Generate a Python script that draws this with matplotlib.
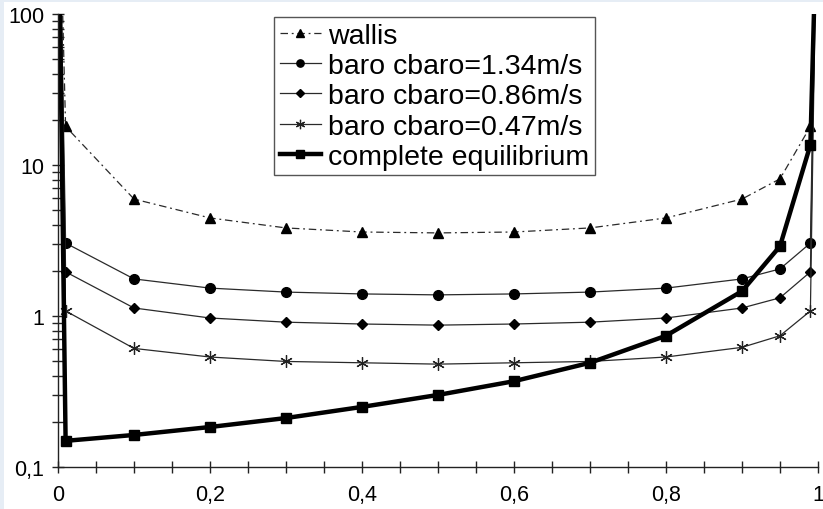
import matplotlib
matplotlib.use('Agg')
import matplotlib.pyplot as plt
from matplotlib.ticker import MultipleLocator, FixedLocator, FuncFormatter
from matplotlib.patches import Rectangle

plt.rcParams['font.family'] = ['Liberation Sans', 'DejaVu Sans']

# x positions (void fraction)
x_sym = [0.001, 0.01, 0.1, 0.2, 0.3, 0.4, 0.5, 0.6, 0.7, 0.8, 0.9, 0.95, 0.99, 0.999]
x_eq = [0.0, 0.01, 0.1, 0.2, 0.3, 0.4, 0.5, 0.6, 0.7, 0.8, 0.9, 0.95, 0.99, 1.0]

wallis = [1000, 18.0, 5.95, 4.46, 3.83, 3.6, 3.55, 3.6, 3.83, 4.46, 5.95, 8.1, 18.0, 1000]
baro_134 = [1000, 3.04, 1.76, 1.53, 1.44, 1.40, 1.38, 1.40, 1.44, 1.53, 1.76, 2.05, 3.04, 1000]
baro_086 = [1000, 1.96, 1.13, 0.97, 0.91, 0.885, 0.87, 0.885, 0.91, 0.97, 1.13, 1.32, 1.96, 1000]
baro_047 = [1000, 1.08, 0.61, 0.535, 0.50, 0.49, 0.48, 0.49, 0.50, 0.535, 0.62, 0.74, 1.08, 1000]
complete = [1000, 0.149, 0.163, 0.184, 0.211, 0.25, 0.30, 0.37, 0.49, 0.74, 1.46, 2.9, 13.6, 1000]

labels = ['wallis', 'baro cbaro=1.34m/s', 'baro cbaro=0.86m/s',
          'baro cbaro=0.47m/s', 'complete equilibrium']

fig = plt.figure(figsize=(8.23, 5.10), dpi=100)
fig.patch.set_facecolor('#e6edf5')
# white page area, light blue strip on top/left
fig.patches.append(Rectangle((4 / 823, 0), 1, 1 - 3 / 510, transform=fig.transFigure,
                             facecolor='white', edgecolor='none', zorder=-10))

ax = fig.add_axes([58 / 823, 1 - 468 / 510, 760 / 823, 453 / 510])
ax.set_facecolor('none')

thin = '#2a2a2a'
ax.plot(x_sym, wallis, linestyle=(0, (6, 3, 1.5, 3)), color=thin, lw=0.9,
        marker='^', ms=7, mfc='black', mec='black', label=labels[0])
ax.plot(x_sym, baro_134, '-', color=thin, lw=0.9, marker='o', ms=7,
        mfc='black', mec='black', label=labels[1])
ax.plot(x_sym, baro_086, '-', color=thin, lw=0.9, marker='D', ms=5,
        mfc='black', mec='black', label=labels[2])
ax.plot(x_sym, baro_047, '-', color=thin, lw=0.9, marker=(6, 2, 0), ms=9,
        mec='#222222', mew=0.9, label=labels[3])
ax.plot(x_eq, complete, '-', color='black', lw=3.2, marker='s', ms=7,
        mfc='black', mec='black', label=labels[4])

ax.set_yscale('log')
ax.set_ylim(0.1, 100)
ax.set_xlim(0, 1)

for s in ['top', 'right']:
    ax.spines[s].set_visible(False)
for s in ['left', 'bottom']:
    ax.spines[s].set_linewidth(1.0)
    ax.spines[s].set_color('#222222')

ax.xaxis.set_major_locator(MultipleLocator(0.2))
ax.xaxis.set_minor_locator(MultipleLocator(0.05))
ax.xaxis.set_major_formatter(FuncFormatter(lambda v, p: ('%g' % round(v, 2)).replace('.', ',')))
ax.yaxis.set_major_locator(FixedLocator([0.1, 1, 10, 100]))
minors = [m * d for d in [0.1, 1, 10] for m in range(2, 10)]
ax.yaxis.set_minor_locator(FixedLocator(minors))
ax.yaxis.set_major_formatter(FuncFormatter(lambda v, p: ('%g' % v).replace('.', ',')))
ax.yaxis.set_minor_formatter(FuncFormatter(lambda v, p: ''))

ax.tick_params(which='both', direction='inout', length=8, width=1.0, color='#222222',
               labelsize=15.5, labelcolor='black')
ax.tick_params(axis='x', which='both', pad=8)
ax.tick_params(axis='y', which='both', pad=6)

leg = ax.legend(loc='upper left', bbox_to_anchor=(274 / 823, 1 - 18 / 510),
                bbox_transform=fig.transFigure, borderaxespad=0, fontsize=20.5,
                frameon=True, fancybox=False, framealpha=1, edgecolor='#555555',
                handlelength=1.45, handletextpad=0.25, labelspacing=0.15,
                borderpad=0.2, markerscale=0.75)
leg.get_frame().set_linewidth(1.0)

fig.savefig('out.png', dpi=100, facecolor=fig.get_facecolor())
